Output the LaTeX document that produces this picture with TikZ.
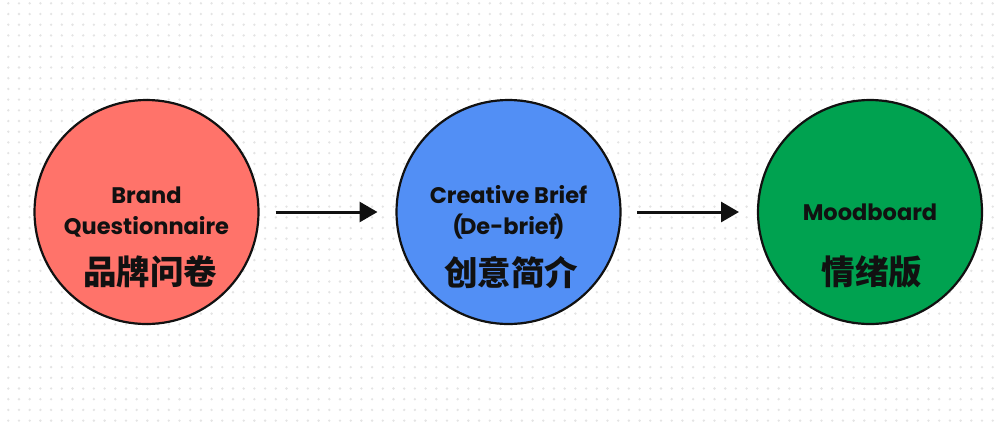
\documentclass[tikz,border=0pt]{standalone}
\usepackage{fontspec}
\setmainfont{Poppins}[Ligatures=NoCommon]
\newfontfamily\cjk{Noto Sans CJK SC}
\usetikzlibrary{arrows.meta}
\definecolor{dotgray}{HTML}{E4E4E4}
\definecolor{cred}{HTML}{FF736A}
\definecolor{cblue}{HTML}{528FF5}
\definecolor{cgreen}{HTML}{00A250}
\definecolor{ink}{HTML}{111111}
\tikzset{
  stage/.style={circle, draw=ink, line width=2.2pt, minimum size=224pt, inner sep=0pt},
  entxt/.style={font=\fontsize{22.5}{31}\selectfont\bfseries, text=ink, align=center},
  cntxt/.style={font=\cjk\fontsize{33.5}{34}\selectfont\bfseries, text=ink},
  flow/.style={line width=3pt, draw=ink, -{Triangle[length=18pt,width=20pt]}, shorten >=0pt}
}
\begin{document}
\begin{tikzpicture}[x=1pt,y=-1pt]
\useasboundingbox (0,0) rectangle (1000,424);
\fill[white] (0,0) rectangle (1000,424);
\foreach \i in {0,...,93}{
  \foreach \j in {0,...,39}{
    \fill[dotgray] (8.3+\i*10.7, 3.3+\j*10.7) circle (1.3pt);
  }
}
\node[stage, fill=cred] (c1) at (146.5,212) {};
\node[stage, fill=cblue] (c2) at (508.5,212) {};
\node[stage, fill=cgreen] (c3) at (870,212) {};
\node[entxt] (t1) at (146.5,212) {Brand\\Questionnaire};
\node[cntxt] (z1) at (150,272) {品牌问卷};
\node[entxt] (t2) at (508.5,212) {Creative Brief\\(\kern-3pt De-brief\kern-3pt)};
\node[cntxt] (z2) at (511,272) {创意简介};
\node[entxt] (t3) at (870,212) {Moodboard};
\node[cntxt] (z3) at (872,272) {情绪版};
\coordinate (a1s) at (275.5,212);
\coordinate (a1e) at (377.5,212);
\coordinate (a2s) at (637,212);
\coordinate (a2e) at (739,212);
\draw[flow] (a1s) -- (a1e);
\draw[flow] (a2s) -- (a2e);
\end{tikzpicture}
\end{document}
